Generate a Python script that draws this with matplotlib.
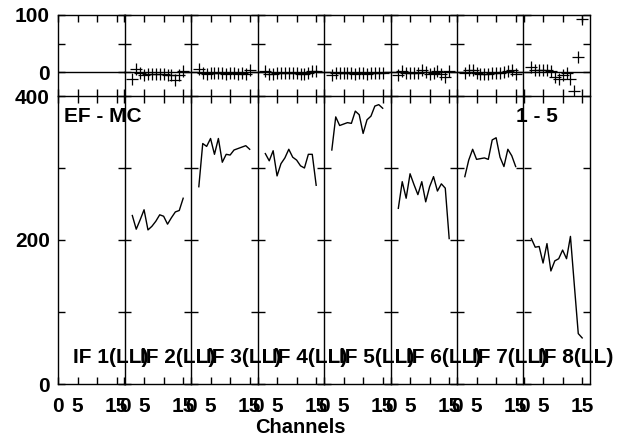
import numpy as np
import matplotlib
matplotlib.use('Agg')
import matplotlib.pyplot as plt

plt.rcParams['font.family'] = ['Liberation Sans', 'DejaVu Sans']
plt.rcParams['font.weight'] = 'bold'

# channels with data in each IF
chans = np.arange(2, 16)

# EF - MC values (main panels); IF 1 has nothing
if2 = [234, 215, 228, 242, 214, 219, 226, 235, 233, 222, 231, 239, 241, 258]
if3 = [274, 334, 330, 341, 319, 341, 308, 319, 318, 325, 327, 329, 331, 326]
if4 = [320, 310, 324, 289, 306, 314, 326, 315, 311, 303, 300, 319, 319, 276]
if5 = [325, 371, 359, 361, 363, 362, 379, 374, 348, 367, 372, 386, 388, 383]
if6 = [244, 281, 258, 292, 277, 263, 281, 253, 274, 288, 268, 278, 272, 202]
if7 = [288, 311, 326, 312, 313, 314, 312, 339, 342, 315, 302, 326, 317, 302]
if8 = [202, 190, 191, 168, 195, 157, 171, 174, 186, 174, 205, 137, 70, 64]

# residuals (top panels)
res2 = [-13, 5, -2, -5, -4, -4, -4, -4, -4, -6, -5, -14, -5, 2]
res3 = [6, -2, -3, -2, -2, -2, -2, -3, -2, -2, -3, -2, -3, 3]
res4 = [2, -4, -3, -1, -2, -1, -1, -2, -2, -3, -4, -2, 1, 2]
res5 = [-5, -2, -1, -1, -1, -2, -3, -2, -2, -3, -2, -2, -2, -2]
res6 = [-6, 1, -2, -2, -1, -1, 4, 0, -3, -1, 2, -4, -8, 2]
res7 = [-1, 3, 4, -2, -3, -3, -4, -2, -1, -1, 0, 2, 3, -3]
res8 = [9, 4, 3, 4, 3, 1, -8, -12, -6, -2, -13, -33, 27, 93]

main_vals = [None, if2, if3, if4, if5, if6, if7, if8]
res_vals = [None, res2, res3, res4, res5, res6, res7, res8]
if_labels = ['IF %d(LL)' % (i + 1) for i in range(8)]

W, H = 625, 437
fig = plt.figure(figsize=(W / 100, H / 100), dpi=100)

left = 58
pw = 66.5
main_bot, main_top = 384, 96
res_bot, res_top = 96, 15

tick_kw = dict(direction='in', length=5, width=1, top=True, right=True,
               labelsize=15, color='black')

for i in range(8):
    x0 = (left + i * pw) / W
    axm = fig.add_axes([x0, 1 - main_bot / H, pw / W, (main_bot - main_top) / H])
    axr = fig.add_axes([x0, 1 - res_bot / H, pw / W, (res_bot - res_top) / H])

    for ax in (axm, axr):
        ax.set_facecolor('none')
        ax.set_xlim(0, 17)
        ax.set_xticks([0, 5, 10, 15])
        ax.tick_params(**tick_kw)
        for s in ax.spines.values():
            s.set_linewidth(1)
            s.set_color('black')
        if i > 0:
            # neighbour's right spine already draws this edge
            ax.spines['left'].set_visible(False)

    axr.spines['bottom'].set_visible(False)

    axm.set_ylim(0, 400)
    axm.set_yticks([0, 100, 200, 300, 400])
    axm.set_xticklabels(['0', '5', '', '15'])
    axm.tick_params(axis='x', pad=9)
    axr.set_ylim(-42, 100)
    axr.set_yticks([0, 50, 100])
    axr.set_xticklabels([])
    axr.axhline(0, color='black', lw=1)

    if i == 0:
        axm.set_yticklabels(['0', '', '200', '', '400'])
        axr.set_yticklabels(['0', '', '100'])
        axm.tick_params(axis='y', pad=6)
        axr.tick_params(axis='y', pad=6)
    else:
        axm.set_yticklabels([])
        axr.set_yticklabels([])

    if main_vals[i] is not None:
        axm.plot(chans, main_vals[i], color='black', lw=1)
        axr.plot(chans, res_vals[i], ls='none', marker='+', ms=8,
                 mew=0.9, color='black')

    fig.text((left + i * pw + 15) / W, 1 - 363 / H, if_labels[i],
             fontsize=15, fontweight='bold', va='baseline', ha='left')

fig.text(64 / W, 1 - 107 / H, 'EF - MC', fontsize=15, fontweight='bold',
         va='top', ha='left')
fig.text(516 / W, 1 - 107 / H, '1 - 5', fontsize=15, fontweight='bold',
         va='top', ha='left')
fig.text(300 / W, 1 - 433 / H, 'Channels', fontsize=14.5, fontweight='bold',
         va='baseline', ha='center')

fig.savefig('out.png', dpi=100)
